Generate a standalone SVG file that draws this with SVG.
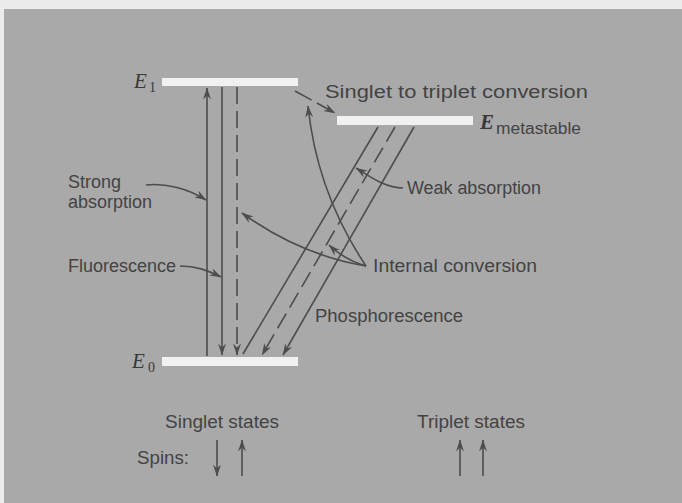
<svg xmlns="http://www.w3.org/2000/svg" width="682" height="503" viewBox="0 0 682 503">
<defs>
<marker id="ah" viewBox="0 0 12 8" markerWidth="12" markerHeight="8" refX="11.5" refY="4" orient="auto" markerUnits="userSpaceOnUse">
<path d="M0,0 L12,4 L0,8 L4,4 Z" fill="#4d4d4d"/>
</marker>
</defs>
<style>
.bg{fill:#ececec}
.panel{fill:#a9a9a9}
.bar{fill:#f1f1f1}
.ln{stroke:#4d4d4d;stroke-width:1.6;fill:none}
.dash{stroke-dasharray:17 7}
.arr{marker-end:url(#ah)}
.lbl{font-family:"Liberation Sans","Noto Sans",Arial,sans-serif;font-size:18px;fill:#434343}
.en{font-family:"Liberation Serif","DejaVu Serif",serif;font-style:italic;font-size:21px;fill:#383838}
.sub{font-family:"Liberation Serif","DejaVu Serif",serif;font-size:14px;fill:#383838}
.subs{font-family:"Liberation Sans",Arial,sans-serif;font-size:16px;fill:#434343}
</style>
<rect class="bg" x="0" y="0" width="682" height="503"/>
<rect class="panel" x="4" y="9" width="678" height="494"/>

<g id="E1">
<rect class="bar" x="162" y="78" width="136" height="8"/>
<text class="en" x="134" y="88">E</text><text class="sub" x="149" y="92">1</text>
</g>
<g id="Emeta">
<rect class="bar" x="337" y="116" width="136" height="9"/>
<text class="en" x="480" y="129" font-weight="bold">E</text><text class="subs" x="496" y="134" textLength="85" lengthAdjust="spacingAndGlyphs">metastable</text>
</g>
<g id="E0">
<rect class="bar" x="162" y="357" width="136" height="9"/>
<text class="en" x="132" y="368">E</text><text class="sub" x="148" y="372">0</text>
</g>

<g id="labels">
<text class="lbl" x="68" y="188">Strong</text>
<text class="lbl" x="68" y="208">absorption</text>
<text class="lbl" x="68" y="272">Fluorescence</text>
<text class="lbl" x="325" y="98" textLength="263" lengthAdjust="spacingAndGlyphs">Singlet to triplet conversion</text>
<text class="lbl" x="407" y="194" textLength="134" lengthAdjust="spacingAndGlyphs">Weak absorption</text>
<text class="lbl" x="373" y="272" textLength="164" lengthAdjust="spacingAndGlyphs">Internal conversion</text>
<text class="lbl" x="315" y="322" textLength="148" lengthAdjust="spacingAndGlyphs">Phosphorescence</text>
<text class="lbl" x="165" y="428" textLength="114" lengthAdjust="spacingAndGlyphs">Singlet states</text>
<text class="lbl" x="417" y="428" textLength="108" lengthAdjust="spacingAndGlyphs">Triplet states</text>
<text class="lbl" x="137" y="464" textLength="52" lengthAdjust="spacingAndGlyphs">Spins:</text>
</g>

<g id="connectors">
<line class="ln arr" x1="207" y1="356" x2="207" y2="88"/>
<line class="ln arr" x1="222" y1="87" x2="222" y2="355"/>
<line class="ln dash arr" x1="237" y1="87" x2="237" y2="355"/>
<line class="ln" x1="243" y1="354" x2="378" y2="127"/>
<line class="ln dash arr" x1="395" y1="127" x2="262" y2="355"/>
<line class="ln arr" x1="414" y1="127" x2="283" y2="355"/>
<line class="ln arr" x1="295" y1="91" x2="335" y2="113" stroke-dasharray="19 6"/>
<path class="ln arr" d="M146,185 C165,183 187,188 206,200"/>
<path class="ln arr" d="M180,266 C196,266 207,270 221,277"/>
<path class="ln arr" d="M403,188 C386,188 372,178 356,168"/>
<path class="ln arr" d="M366,266 Q300,255 242,213"/>
<path class="ln arr" d="M366,266 Q345,260 329,245"/>
<path class="ln arr" d="M366,266 Q317,193 308,106"/>
<line class="ln arr" x1="217" y1="440" x2="217" y2="476"/>
<line class="ln arr" x1="242" y1="476" x2="242" y2="440"/>
<line class="ln arr" x1="460" y1="476" x2="460" y2="440"/>
<line class="ln arr" x1="483" y1="476" x2="483" y2="440"/>
</g>
</svg>
